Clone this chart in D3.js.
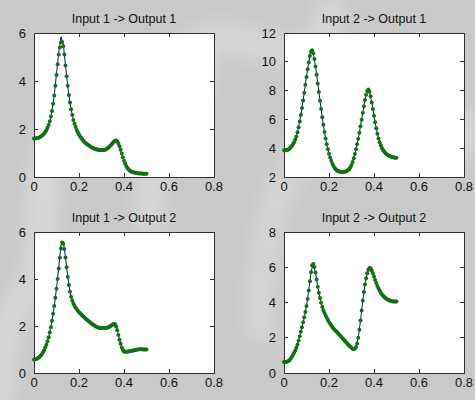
<!DOCTYPE html>
<html>
<head>
<meta charset="utf-8">
<script src="https://cdn.jsdelivr.net/npm/d3@7"></script>
<style>
  html, body { margin: 0; padding: 0; background: #c9c9c9; }
  svg { display: block; }
  text { font-family: "Liberation Sans", Arial, sans-serif; fill: #111; }
</style>
</head>
<body>
<div id="chart"></div>
<script>
// sampling of the curves: measured (green dots) every 0.005, model (blue line) every 0.01
const measuredStep = 0.005;
const modelStep = 0.01;

const titles = ['Input 1 -> Output 1', 'Input 2 -> Output 1', 'Input 1 -> Output 2', 'Input 2 -> Output 2'];
const xTicks = [0, 0.2, 0.4, 0.6, 0.8];
const yDomains = [[0, 6], [2, 12], [0, 6], [0, 8]];
const yTicks = [[0, 2, 4, 6], [2, 4, 6, 8, 10, 12], [0, 2, 4, 6], [0, 2, 4, 6, 8]];

const measured11 = [1.60,1.60,1.61,1.62,1.64,1.66,1.69,1.72,1.76,1.81,
  1.87,1.95,2.05,2.17,2.32,2.52,2.75,3.05,3.40,3.80,
  4.25,4.70,5.10,5.40,5.60,5.62,5.45,5.10,4.65,4.20,
  3.80,3.42,3.10,2.82,2.58,2.38,2.22,2.08,1.96,1.86,
  1.77,1.69,1.62,1.56,1.50,1.45,1.41,1.37,1.33,1.30,
  1.27,1.24,1.22,1.20,1.18,1.16,1.15,1.14,1.13,1.12,
  1.12,1.12,1.13,1.14,1.16,1.19,1.22,1.26,1.31,1.36,
  1.42,1.47,1.51,1.52,1.48,1.40,1.28,1.14,0.98,0.82,
  0.68,0.56,0.46,0.38,0.32,0.27,0.24,0.22,0.20,0.19,
  0.18,0.17,0.16,0.16,0.15,0.15,0.15,0.14,0.14,0.14,
  0.14];
const model11 = [1.58,1.60,1.63,1.68,1.75,1.86,2.04,2.32,2.76,3.42,
  4.30,5.20,5.85,5.55,4.65,3.78,3.08,2.57,2.21,1.95,
  1.76,1.61,1.50,1.41,1.33,1.27,1.22,1.18,1.15,1.13,
  1.12,1.13,1.16,1.22,1.31,1.42,1.52,1.50,1.29,0.97,
  0.67,0.45,0.31,0.23,0.20,0.18,0.16,0.15,0.15,0.14,
  0.14];

const measured21 = [3.85,3.85,3.86,3.88,3.92,3.98,4.06,4.16,4.28,4.42,
  4.60,4.82,5.10,5.45,5.85,6.30,6.80,7.32,7.85,8.40,
  8.95,9.48,9.95,10.40,10.72,10.80,10.60,10.20,9.68,9.10,
  8.50,7.90,7.30,6.72,6.15,5.62,5.12,4.68,4.28,3.92,
  3.62,3.35,3.12,2.92,2.76,2.63,2.53,2.46,2.41,2.38,
  2.36,2.35,2.35,2.36,2.37,2.39,2.42,2.48,2.56,2.68,
  2.84,3.05,3.30,3.60,3.92,4.28,4.66,5.08,5.52,5.98,
  6.45,6.92,7.35,7.72,7.98,8.08,7.92,7.60,7.18,6.72,
  6.25,5.80,5.38,5.00,4.68,4.42,4.20,4.02,3.88,3.77,
  3.67,3.60,3.54,3.49,3.45,3.42,3.39,3.37,3.35,3.34,
  3.33];
const model21 = [3.85,3.87,3.93,4.07,4.30,4.62,5.12,5.88,6.82,7.88,
  8.98,9.98,10.85,10.62,9.70,8.50,7.30,6.14,5.10,4.26,
  3.60,3.11,2.75,2.52,2.40,2.35,2.34,2.37,2.43,2.57,
  2.84,3.30,3.92,4.66,5.52,6.45,7.35,7.98,7.92,7.18,
  6.25,5.38,4.68,4.20,3.88,3.67,3.54,3.45,3.39,3.35,
  3.33];

const measured12 = [0.57,0.58,0.60,0.62,0.65,0.69,0.74,0.80,0.88,0.97,
  1.08,1.20,1.35,1.52,1.72,1.95,2.22,2.52,2.85,3.20,
  3.58,4.00,4.45,4.90,5.30,5.55,5.50,5.28,4.92,4.50,
  4.10,3.75,3.46,3.24,3.08,2.96,2.86,2.78,2.71,2.65,
  2.59,2.54,2.49,2.44,2.40,2.35,2.31,2.27,2.23,2.19,
  2.15,2.11,2.07,2.04,2.01,1.98,1.96,1.94,1.93,1.92,
  1.91,1.91,1.91,1.91,1.92,1.93,1.95,1.97,2.00,2.03,
  2.06,2.08,2.07,1.98,1.82,1.62,1.42,1.24,1.09,0.98,
  0.92,0.90,0.90,0.91,0.92,0.93,0.94,0.95,0.96,0.97,
  0.98,0.99,1.00,1.00,1.01,1.01,1.01,1.00,1.00,1.00,
  1.00];
const model12 = [0.56,0.60,0.65,0.74,0.88,1.08,1.35,1.72,2.22,2.85,
  3.60,4.50,5.45,5.60,4.92,4.10,3.46,3.08,2.86,2.71,
  2.59,2.49,2.40,2.31,2.23,2.15,2.07,2.01,1.96,1.93,
  1.91,1.91,1.92,1.95,2.00,2.06,2.07,1.82,1.42,1.09,
  0.92,0.90,0.92,0.94,0.96,0.98,1.00,1.01,1.01,1.00,
  1.00];

const measured22 = [0.62,0.62,0.63,0.65,0.68,0.74,0.82,0.92,1.03,1.15,
  1.28,1.43,1.62,1.84,2.08,2.34,2.60,2.88,3.16,3.46,
  3.80,4.20,4.68,5.20,5.72,6.10,6.18,6.02,5.70,5.30,
  4.90,4.55,4.25,3.98,3.75,3.56,3.40,3.26,3.13,3.01,
  2.90,2.80,2.70,2.61,2.53,2.46,2.39,2.32,2.25,2.18,
  2.11,2.04,1.97,1.90,1.83,1.76,1.69,1.62,1.55,1.49,
  1.43,1.38,1.36,1.38,1.48,1.68,2.00,2.45,2.98,3.55,
  4.10,4.60,5.02,5.38,5.66,5.86,5.96,5.94,5.82,5.66,
  5.48,5.28,5.10,4.94,4.80,4.67,4.56,4.47,4.39,4.32,
  4.26,4.21,4.17,4.14,4.11,4.09,4.07,4.06,4.05,4.05,
  4.05];
const model22 = [0.62,0.63,0.68,0.82,1.03,1.28,1.62,2.08,2.60,3.16,
  3.80,4.68,5.72,6.20,5.70,4.90,4.25,3.75,3.40,3.13,
  2.90,2.70,2.53,2.39,2.25,2.11,1.97,1.83,1.69,1.55,
  1.43,1.36,1.48,2.00,2.98,4.10,5.02,5.66,5.96,5.82,
  5.48,5.10,4.80,4.56,4.39,4.26,4.17,4.11,4.07,4.05,
  4.05];

const measuredSeries = [measured11, measured21, measured12, measured22];
const modelSeries = [model11, model21, model12, model22];

const W = 475, H = 400;
const svg = d3.select('#chart').append('svg').attr('width', W).attr('height', H);

// soft, blurred watermark bands like the scanned figure
svg.append('defs').append('filter').attr('id', 'blur')
  .attr('x', '-20%').attr('y', '-20%').attr('width', '140%').attr('height', '140%')
  .append('feGaussianBlur').attr('stdDeviation', 10);
const wm = svg.append('g').attr('fill', 'none').attr('stroke', '#ffffff')
  .attr('stroke-linecap', 'round').attr('filter', 'url(#blur)');
[[40, 60, 200, 260, 0.3], [150, 10, 330, 220, 0.25], [260, 120, 470, 330, 0.22], [0, 250, 180, 400, 0.25]].forEach(([x1, y1, x2, y2, o]) => {
  wm.append('path')
    .attr('d', `M${x1},${y2} Q${x1},${y1} ${(x1 + x2) / 2},${y1 + 30} T${x2},${y1}`)
    .attr('stroke-width', 30).attr('stroke-opacity', o);
});

const panels = [
  {x: 34, y: 33, w: 180, h: 144},
  {x: 284, y: 33, w: 180, h: 144},
  {x: 34, y: 232, w: 180, h: 141},
  {x: 284, y: 232, w: 180, h: 141}
];

panels.forEach((p, i) => drawPanel(p, i));

function drawPanel(p, i) {
  const g = svg.append('g').attr('transform', `translate(${p.x},${p.y})`);
  const x = d3.scaleLinear().domain([0, 0.8]).range([0, p.w]);
  const y = d3.scaleLinear().domain(yDomains[i]).range([p.h, 0]);

  g.append('rect').attr('width', p.w).attr('height', p.h).attr('fill', '#ffffff');

  const tick = 4;
  const ax = g.append('g').attr('stroke', '#333').attr('stroke-width', 1).attr('shape-rendering', 'crispEdges');
  xTicks.forEach(t => {
    ax.append('line').attr('x1', x(t)).attr('x2', x(t)).attr('y1', p.h).attr('y2', p.h - tick);
    ax.append('line').attr('x1', x(t)).attr('x2', x(t)).attr('y1', 0).attr('y2', tick);
  });
  yTicks[i].forEach(t => {
    ax.append('line').attr('x1', 0).attr('x2', tick).attr('y1', y(t)).attr('y2', y(t));
    ax.append('line').attr('x1', p.w).attr('x2', p.w - tick).attr('y1', y(t)).attr('y2', y(t));
  });
  ax.append('rect').attr('width', p.w).attr('height', p.h).attr('fill', 'none');

  g.selectAll('.xt').data(xTicks).join('text').attr('class', 'xt')
    .attr('x', d => x(d)).attr('y', p.h + 14).attr('text-anchor', 'middle')
    .style('font-size', '13px').text(d => d3.format('.1~f')(d));
  g.selectAll('.yt').data(yTicks[i]).join('text').attr('class', 'yt')
    .attr('x', -8).attr('y', d => y(d)).attr('dy', '0.36em').attr('text-anchor', 'end')
    .style('font-size', '13px').text(d => d);
  g.append('text').attr('x', p.w / 2).attr('y', -10).attr('text-anchor', 'middle')
    .style('font-size', '12.5px').text(titles[i]);

  const model = modelSeries[i].map((v, k) => [k * modelStep, v]);
  const meas = measuredSeries[i].map((v, k) => [k * measuredStep, v]);

  g.append('path').datum(model)
    .attr('d', d3.line().x(d => x(d[0])).y(d => y(d[1])))
    .attr('fill', 'none').attr('stroke', '#10108a').attr('stroke-width', 1);

  g.append('g').selectAll('circle').data(meas).join('circle')
    .attr('cx', d => x(d[0])).attr('cy', d => y(d[1])).attr('r', 2)
    .attr('fill', '#157015');
}
</script>
</body>
</html>
